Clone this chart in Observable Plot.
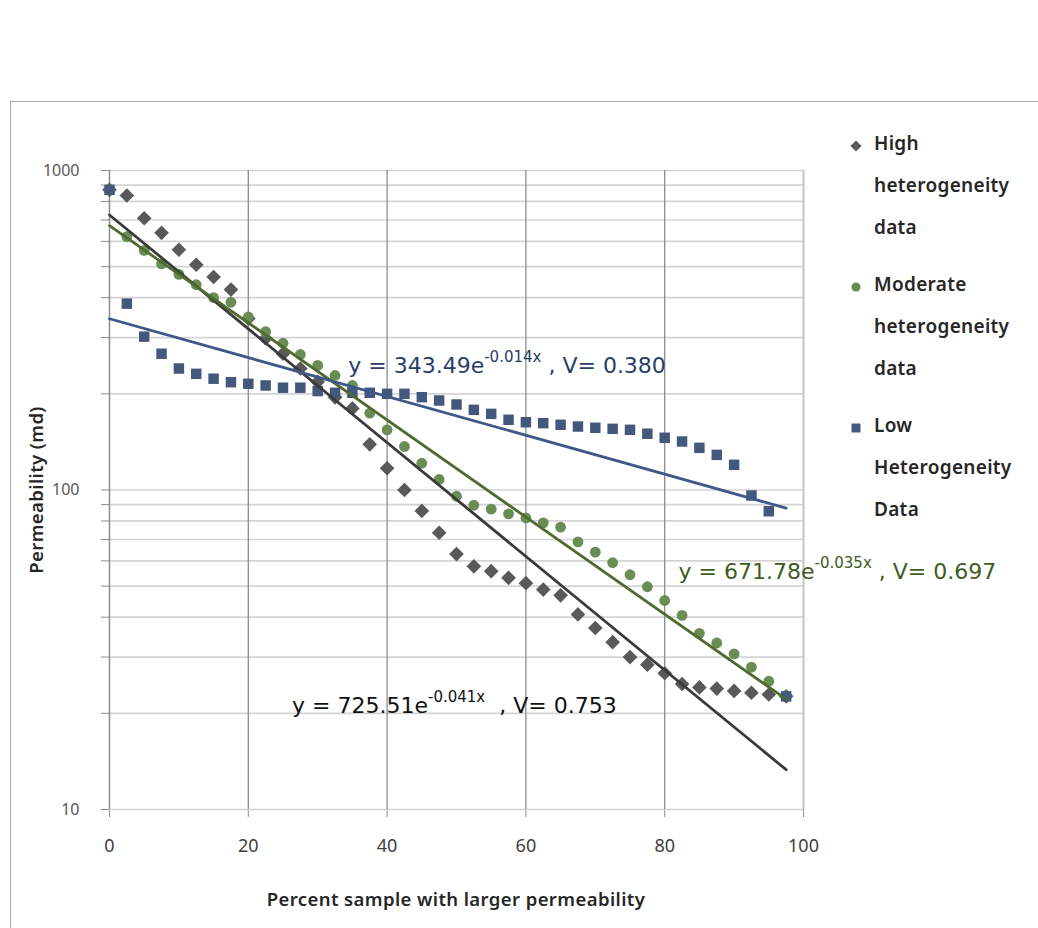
<!DOCTYPE html>
<html>
<head>
<meta charset="utf-8">
<script src="https://cdn.jsdelivr.net/npm/d3@7"></script>
<script src="https://cdn.jsdelivr.net/npm/@observablehq/plot@0.6"></script>
<style>
  html, body { margin: 0; padding: 0; background: #fff; overflow: hidden; }
  #page { position: relative; width: 1038px; height: 928px; overflow: hidden; }
  #page svg.plot-main { position: absolute; left: 0; top: 0; }
  .frame { position: absolute; left: 10px; top: 101px; width: 1100px; height: 900px;
           border: 1.5px solid #a9a9a9; box-sizing: border-box; }
  .title { position: absolute; font-family: "Noto Sans", sans-serif; font-size: 18.5px; font-weight: 600;
           letter-spacing: 0.4px; color: #262626; white-space: nowrap; }
  .ytitle { left: 35px; top: 490px; transform: translate(-50%, -50%) rotate(-90deg); }
  .xtitle { left: 456px; top: 898px; transform: translate(-50%, -50%); }
  .leg-line { position: absolute; left: 874px; font-family: "Noto Sans", sans-serif; font-weight: 600;
              font-size: 19px; letter-spacing: 0.3px; color: #262626; transform: translateY(-50%); white-space: nowrap; }
  .leg-mark { position: absolute; }
</style>
</head>
<body>
<div id="page">
  <div class="frame"></div>
  <div id="chart"></div>
  <div class="title ytitle">Permeability (md)</div>
  <div class="title xtitle">Percent sample with larger permeability</div>
  <div id="legend"></div>
</div>
<script>
// Percent of samples with larger permeability (x) and permeability in md (y)
const pct = [0, 2.5, 5, 7.5, 10, 12.5, 15, 17.5, 20, 22.5, 25, 27.5, 30, 32.5, 35, 37.5,
             40, 42.5, 45, 47.5, 50, 52.5, 55, 57.5, 60, 62.5, 65, 67.5, 70, 72.5, 75, 77.5,
             80, 82.5, 85, 87.5, 90, 92.5, 95, 97.5];

const highK = [870, 835, 709, 638, 565, 507, 464, 424, 344, 298, 267, 240, 218, 195, 180, 139,
               117, 100, 86, 73.5, 63, 57.7, 55.7, 53.1, 51.1, 48.8, 46.8, 40.8, 37.0, 33.4, 30.0, 28.4,
               26.7, 24.7, 24.1, 23.9, 23.5, 23.2, 22.9, 22.6];

const moderateK = [870, 621, 562, 510, 473, 439, 400, 387, 348, 313, 288, 265.6, 245.4, 228.3, 212.4, 173.9,
                   154.3, 136.8, 121.3, 107.9, 95.6, 89.6, 87.1, 84.2, 81.8, 78.9, 76.5, 68.8, 63.9, 59.2, 54.3, 49.8,
                   45.1, 40.5, 35.6, 33.2, 30.7, 27.9, 25.2, 22.7];

const lowK = [870, 383, 302, 267, 240, 231, 223, 217.5, 215, 212.4, 209, 209, 204, 201.5, 201.5, 201.5,
              200, 200, 195.2, 190.6, 185.2, 178.2, 173.1, 165.9, 163, 161.9, 160, 158, 156.6, 155.4, 154.3, 150,
              145.7, 141.8, 135.5, 128.8, 119.9, 96.1, 85.8, 22.6];

const seriesNames = ["High heterogeneity data", "Moderate heterogeneity data", "Low Heterogeneity Data"];

// Exponential trend lines y = a·e^(-b·x) and Dykstra-Parsons coefficient V
const fitA = [725.51, 671.78, 343.49];
const fitB = [0.041, 0.035, 0.014];
const fitV = ["0.753", "0.697", "0.380"];

const xTicks = [0, 20, 40, 60, 80, 100];
const yMajor = [10, 100, 1000];
const yGrid = [10, 20, 30, 40, 50, 60, 70, 80, 90, 100, 200, 300, 400, 500, 600, 700, 800, 900, 1000];

// Styling per series
const markerFill = ["#595959", "#6a8d55", "#44577c"];
const markerSymbol = ["diamond2", "circle", "square"];
const markerR = [6.6, 5.4, 5.9];
const lineStroke = ["#3a3a3a", "#4f6b2f", "#3f5887"];
const labelFill = ["#111111", "#3e5c21", "#263f6a"];
// Where each equation label sits (data coordinates, baseline) and gap before the V value
const labelAt = [
  { x: 26.3, y: 20.0, gap: "  " },
  { x: 82.0, y: 52.5, gap: " " },
  { x: 34.4, y: 231.6, gap: " " }
];

const seriesK = [highK, moderateK, lowK];
const points = seriesK.map(ks => pct.map((p, i) => ({ x: p, k: ks[i] })));
const xEnds = [pct[0], pct[pct.length - 1]];
const fits = fitA.map((a, j) => xEnds.map(x => ({ x, k: a * Math.exp(-fitB[j] * x) })));
const eqRows = fitA.map((a, j) => ({
  key: `y = ${a}e`, a, b: fitB[j], v: fitV[j], x: labelAt[j].x, k: labelAt[j].y, gap: labelAt[j].gap, j
}));

const chart = Plot.plot({
  width: 1038,
  height: 928,
  marginLeft: 109,
  marginRight: 235,
  marginTop: 170,
  marginBottom: 119,
  style: { background: "transparent", fontFamily: "'Liberation Sans Narrow', 'Noto Sans', sans-serif", fontSize: "17px", color: "#404040" },
  x: { domain: [0, 100], ticks: xTicks, tickSize: 8, tickPadding: 22, label: null },
  y: { type: "log", domain: [10, 1000], ticks: yGrid, tickFormat: d => yMajor.includes(d) ? String(d) : "",
       tickSize: 8, tickPadding: 22, label: null },
  marks: [
    Plot.ruleY(yGrid, { stroke: "#d4d4d4", strokeWidth: 1.7 }),
    Plot.ruleX(xTicks.slice(1, -1), { stroke: "#8c8c8c", strokeWidth: 1.3 }),
    Plot.ruleX([100], { stroke: "#c4c4c4", strokeWidth: 2 }),
    Plot.ruleX([0], { stroke: "#8c8c8c", strokeWidth: 1.5 }),
    ...points.map((rows, j) => Plot.dot(rows, {
      x: "x", y: "k", symbol: markerSymbol[j], r: markerR[j], fill: markerFill[j], stroke: "none"
    })),
    ...fits.map((rows, j) => Plot.line(rows, {
      x: "x", y: "k", stroke: lineStroke[j], strokeWidth: 2.8
    })),
    Plot.text(eqRows, {
      x: "x", y: "k", text: "key", textAnchor: "start", lineAnchor: "bottom",
      fill: d => labelFill[d.j], fontSize: 22, fontFamily: "'DejaVu Sans', sans-serif"
    })
  ]
});
chart.classList.add("plot-main");
document.getElementById("chart").appendChild(chart);

const svg = d3.select(chart);
// axis cosmetics: gray tick marks, tick label sizes and tones
svg.selectAll('[aria-label^="y-axis"] path, [aria-label^="x-axis"] path, [aria-label^="y-axis"] line, [aria-label^="x-axis"] line')
  .attr("stroke", "#8c8c8c");
svg.selectAll('[aria-label^="y-axis"] text').attr("font-size", 16).attr("fill", "#595959");
svg.selectAll('[aria-label^="x-axis"] text').attr("font-size", 18).attr("fill", "#404040");

// equation labels with superscripted exponent
const byKey = new Map(eqRows.map(d => [d.key, d]));
svg.selectAll('g[aria-label="text"] text').each(function () {
  const d = byKey.get(this.textContent);
  if (!d) return;
  const t = d3.select(this).text(null).attr("xml:space", "preserve").style("white-space", "pre");
  t.append("tspan").text(`y = ${d.a}e`);
  t.append("tspan").attr("font-size", 15).attr("dy", -11).text(`-${d.b}x`);
  t.append("tspan").attr("dy", 11).text(`${d.gap}, V= ${d.v}`);
});

// legend: marker plus name broken onto one word per line
const legend = d3.select("#legend");
const legTop = [143, 284, 425];
const lineGap = 42;
const legSym = [d3.symbolDiamond2, d3.symbolCircle, d3.symbolSquare];
const legSize = [80, 66, 80];
seriesNames.forEach((name, j) => {
  const m = legend.append("svg").attr("class", "leg-mark")
    .attr("width", 16).attr("height", 16)
    .style("left", `${856 - 8}px`).style("top", `${legTop[j] + 3 - 8}px`);
  m.append("path").attr("transform", "translate(8,8)")
    .attr("d", d3.symbol(legSym[j], legSize[j])()).attr("fill", markerFill[j]);
  name.split(" ").forEach((word, i) => {
    legend.append("div").attr("class", "leg-line")
      .style("top", `${legTop[j] + i * lineGap}px`).text(word);
  });
});
</script>
</body>
</html>
